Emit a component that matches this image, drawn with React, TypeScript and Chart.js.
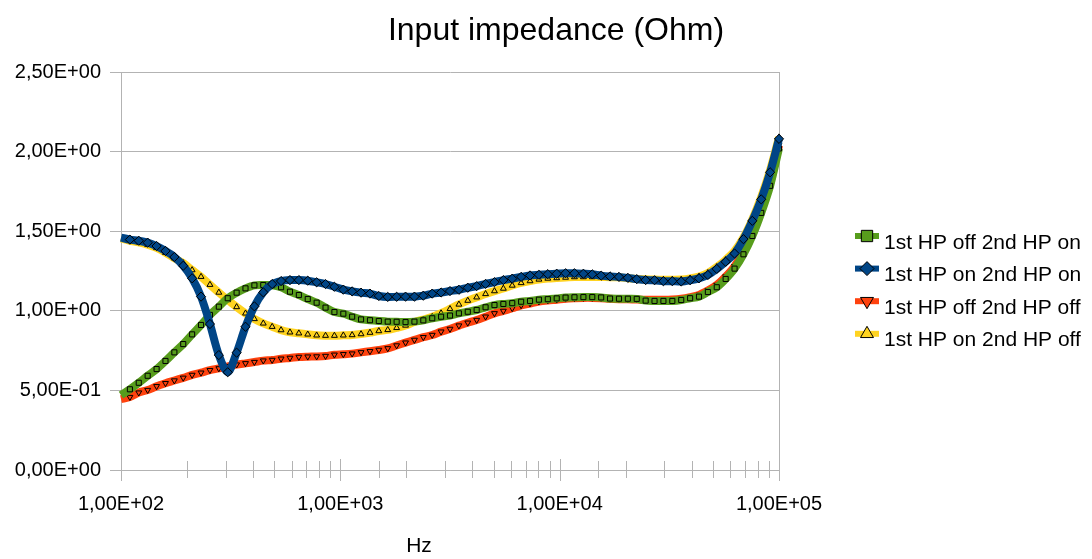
import React, { useEffect, useRef } from 'react';
import { Chart, registerables } from 'chart.js';

Chart.register(...registerables);

// ---------- data ----------
const FREQ_HZ = [
  100, 109.8, 120.5, 132.3, 145.3, 159.5, 175.1, 192.2, 211.0, 231.7,
  254.4, 279.3, 306.6, 336.6, 369.5, 405.7, 445.4, 488.9, 536.8, 589.3,
  647.0, 710.3, 779.8, 856.1, 939.7, 1032, 1132, 1243, 1365, 1498,
  1645, 1806, 1983, 2177, 2390, 2624, 2880, 3162, 3472, 3811,
  4184, 4594, 5043, 5537, 6078, 6673, 7326, 8043, 8830, 9694,
  10640, 11680, 12830, 14080, 15460, 16970, 18640, 20460, 22460, 24660,
  27070, 29720, 32630, 35820, 39330, 43170, 47400, 52030, 57120, 62710,
  68850, 75580, 82980, 91100, 100000,
];

const HP1_OFF_HP2_ON = [
  0.470, 0.507, 0.548, 0.592, 0.634, 0.685, 0.739, 0.791, 0.852, 0.911,
  0.974, 1.026, 1.079, 1.114, 1.141, 1.160, 1.162, 1.161, 1.148, 1.120,
  1.099, 1.074, 1.051, 1.020, 0.992, 0.982, 0.963, 0.946, 0.941, 0.936,
  0.932, 0.931, 0.929, 0.932, 0.940, 0.953, 0.963, 0.970, 0.984, 0.994,
  1.005, 1.022, 1.036, 1.043, 1.048, 1.057, 1.062, 1.070, 1.073, 1.078,
  1.083, 1.085, 1.086, 1.086, 1.084, 1.077, 1.076, 1.076, 1.075, 1.064,
  1.062, 1.062, 1.062, 1.068, 1.079, 1.089, 1.118, 1.148, 1.200, 1.265,
  1.355, 1.470, 1.615, 1.785, 2.020,
];

const HP1_ON_HP2_ON = [
  1.460, 1.447, 1.440, 1.428, 1.407, 1.376, 1.338, 1.283, 1.204, 1.089,
  0.917, 0.722, 0.614, 0.737, 0.900, 1.028, 1.116, 1.168, 1.187, 1.193,
  1.193, 1.189, 1.179, 1.168, 1.151, 1.133, 1.122, 1.114, 1.108, 1.093,
  1.087, 1.088, 1.089, 1.089, 1.095, 1.108, 1.115, 1.124, 1.132, 1.145,
  1.155, 1.169, 1.180, 1.193, 1.202, 1.213, 1.222, 1.226, 1.230, 1.233,
  1.236, 1.236, 1.233, 1.229, 1.221, 1.216, 1.213, 1.207, 1.199, 1.193,
  1.192, 1.186, 1.186, 1.184, 1.192, 1.204, 1.225, 1.263, 1.308, 1.360,
  1.450, 1.565, 1.700, 1.870, 2.080,
];

const HP1_OFF_HP2_OFF = [
  0.445, 0.458, 0.486, 0.502, 0.526, 0.545, 0.562, 0.579, 0.597, 0.611,
  0.627, 0.638, 0.651, 0.662, 0.670, 0.678, 0.687, 0.691, 0.699, 0.704,
  0.710, 0.712, 0.713, 0.716, 0.724, 0.727, 0.731, 0.739, 0.746, 0.754,
  0.764, 0.782, 0.800, 0.817, 0.834, 0.848, 0.869, 0.886, 0.907, 0.925,
  0.942, 0.963, 0.984, 0.999, 1.016, 1.034, 1.046, 1.058, 1.065, 1.070,
  1.076, 1.079, 1.081, 1.081, 1.079, 1.075, 1.073, 1.072, 1.071, 1.069,
  1.069, 1.069, 1.071, 1.076, 1.086, 1.100, 1.128, 1.162, 1.215, 1.280,
  1.370, 1.485, 1.630, 1.800, 2.040,
];

const HP1_ON_HP2_OFF = [
  1.455, 1.440, 1.430, 1.415, 1.395, 1.365, 1.330, 1.300, 1.256, 1.214,
  1.164, 1.115, 1.068, 1.024, 0.984, 0.949, 0.921, 0.900, 0.879, 0.865,
  0.859, 0.852, 0.846, 0.844, 0.844, 0.846, 0.848, 0.854, 0.863, 0.873,
  0.880, 0.893, 0.908, 0.930, 0.945, 0.962, 0.985, 1.012, 1.040, 1.064,
  1.085, 1.106, 1.124, 1.140, 1.159, 1.175, 1.187, 1.197, 1.203, 1.206,
  1.209, 1.212, 1.212, 1.212, 1.212, 1.211, 1.210, 1.205, 1.200, 1.198,
  1.196, 1.195, 1.195, 1.196, 1.203, 1.215, 1.238, 1.275, 1.320, 1.375,
  1.460, 1.575, 1.715, 1.885, 2.090,
];

const SERIES_NAMES = [
  '1st HP off 2nd HP on',
  '1st HP on 2nd HP on',
  '1st HP off 2nd HP off',
  '1st HP on 2nd HP off',
];

const TITLE = 'Input impedance (Ohm)';
const X_TITLE = 'Hz';
const X_MIN = 100;
const X_MAX = 100000;
const Y_MIN = 0;
const Y_MAX = 2.5;
const Y_STEP = 0.5;

// ---------- style ----------
const FONT = 'Liberation Sans';
const GRID = '#b3b3b3';
const COLORS = ['#579d1c', '#004586', '#ff420e', '#ffd320'];

function sci(v: number): string {
  const s = Number(v).toExponential(2);
  const [m, e] = s.split('e');
  const n = parseInt(e, 10);
  const sign = n < 0 ? '-' : '+';
  return m.replace('.', ',') + 'E' + sign + String(Math.abs(n)).padStart(2, '0');
}

function isDecade(v: number): boolean {
  const l = Math.log10(v);
  return Math.abs(l - Math.round(l)) < 1e-9;
}

function markerPath(ctx: CanvasRenderingContext2D, style: string, rot: number, x: number, y: number, r: number) {
  ctx.beginPath();
  if (style === 'rect') {
    const s = r * Math.SQRT1_2;
    ctx.rect(x - s, y - s, 2 * s, 2 * s);
  } else if (style === 'rectRot') {
    ctx.moveTo(x - r, y);
    ctx.lineTo(x, y - r);
    ctx.lineTo(x + r, y);
    ctx.lineTo(x, y + r);
    ctx.closePath();
  } else {
    let a = (rot * Math.PI) / 180;
    ctx.moveTo(x + Math.sin(a) * r, y - Math.cos(a) * r);
    a += (2 * Math.PI) / 3;
    ctx.lineTo(x + Math.sin(a) * r, y - Math.cos(a) * r);
    a += (2 * Math.PI) / 3;
    ctx.lineTo(x + Math.sin(a) * r, y - Math.cos(a) * r);
    ctx.closePath();
  }
}

const LEGEND_R: Record<string, number> = { rect: 8, rectRot: 7, triangle: 7.5 };

const decorPlugin = {
  id: 'decor',
  beforeDatasetsDraw(chart: any) {
    const ctx = chart.ctx as CanvasRenderingContext2D;
    const xs = chart.scales.x;
    const y0 = xs.top;
    ctx.save();
    ctx.strokeStyle = GRID;
    ctx.lineWidth = 1;
    xs.ticks.forEach((t: any) => {
      const px = Math.round(xs.getPixelForValue(t.value)) + 0.5;
      const major = isDecade(t.value);
      ctx.beginPath();
      ctx.moveTo(px, y0 - (major ? 11 : 9));
      ctx.lineTo(px, y0 + (major ? 11 : 8));
      ctx.stroke();
    });
    ctx.restore();
  },
  afterDraw(chart: any) {
    const ctx = chart.ctx as CanvasRenderingContext2D;
    ctx.save();
    ctx.fillStyle = '#000';
    ctx.textBaseline = 'alphabetic';
    ctx.textAlign = 'center';
    ctx.font = `32px "${FONT}"`;
    ctx.fillText(TITLE, 556, 40);
    ctx.font = `21px "${FONT}"`;
    ctx.fillText(X_TITLE, 419, 552);

    // legend
    ctx.textAlign = 'left';
    chart.data.datasets.forEach((ds: any, i: number) => {
      const cy = 236 + i * 32.6;
      ctx.strokeStyle = ds.borderColor;
      ctx.lineWidth = 6;
      ctx.beginPath();
      ctx.moveTo(855, cy);
      ctx.lineTo(879, cy);
      ctx.stroke();
      markerPath(ctx, ds.pointStyle, ds.pointRotation || 0, 867, cy, LEGEND_R[ds.pointStyle]);
      ctx.fillStyle = ds.pointBackgroundColor;
      ctx.fill();
      ctx.lineWidth = 1;
      ctx.strokeStyle = '#000';
      ctx.stroke();
      ctx.fillStyle = '#000';
      ctx.font = `21px "${FONT}"`;
      ctx.fillText(ds.label, 884, cy + 12.5);
    });
    ctx.restore();
  },
};

const SERIES = [
  { values: HP1_OFF_HP2_ON, style: 'rect', rot: 0, r: 3.6, order: 1 },
  { values: HP1_ON_HP2_ON, style: 'rectRot', rot: 0, r: 4.6, order: 0 },
  { values: HP1_OFF_HP2_OFF, style: 'triangle', rot: 180, r: 3.4, order: 3 },
  { values: HP1_ON_HP2_OFF, style: 'triangle', rot: 0, r: 3.4, order: 2 },
];

export default function App() {
  const ref = useRef<HTMLCanvasElement | null>(null);

  useEffect(() => {
    if (!ref.current) return;
    const datasets = SERIES.map((s, i) => ({
      label: SERIES_NAMES[i],
      data: FREQ_HZ.map((f, k) => ({ x: f, y: s.values[k] })),
      borderColor: COLORS[i],
      backgroundColor: COLORS[i],
      borderWidth: 8,
      tension: 0.3,
      pointStyle: s.style,
      pointRotation: s.rot,
      pointRadius: (c: any) => (c.dataIndex === 0 ? 0 : s.r),
      pointBackgroundColor: COLORS[i],
      pointBorderColor: '#000',
      pointBorderWidth: 1,
      order: s.order,
      clip: 10,
    }));

    const chart = new Chart(ref.current, {
      type: 'line',
      data: { datasets },
      plugins: [decorPlugin],
      options: {
        responsive: false,
        animation: false,
        events: [],
        layout: { padding: { left: 0, top: 72, right: 313, bottom: 0 } },
        plugins: {
          legend: { display: false },
          title: { display: false },
          tooltip: { enabled: false },
        },
        scales: {
          x: {
            type: 'logarithmic',
            min: X_MIN,
            max: X_MAX,
            grid: {
              color: (c: any) => (c.tick && c.tick.value === X_MAX ? GRID : 'rgba(0,0,0,0)'),
              drawTicks: false,
              lineWidth: 1,
            },
            border: { display: true, color: GRID, width: 1 },
            ticks: {
              autoSkip: false,
              maxRotation: 0,
              padding: 22,
              color: '#000',
              font: { family: FONT, size: 20 },
              callback: (v: any) => (isDecade(Number(v)) ? sci(Number(v)) : ''),
            },
            afterFit: (s: any) => {
              s.height = 89;
            },
          },
          y: {
            type: 'linear',
            min: Y_MIN,
            max: Y_MAX,
            ticks: {
              stepSize: Y_STEP,
              padding: 9,
              color: '#000',
              font: { family: FONT, size: 20 },
              callback: (v: any) => sci(Number(v)),
            },
            grid: { color: GRID, tickLength: 11, drawTicks: true, lineWidth: 1 },
            border: { display: true, color: GRID, width: 1 },
            afterFit: (s: any) => {
              s.width = 121;
            },
          },
        },
      } as any,
    });
    return () => chart.destroy();
  }, []);

  return (
    <div style={{ position: 'absolute', left: 0, top: 0, width: 1092, height: 559, background: '#fff' }}>
      <canvas ref={ref} width={1092} height={559} style={{ display: 'block' }} />
    </div>
  );
}
